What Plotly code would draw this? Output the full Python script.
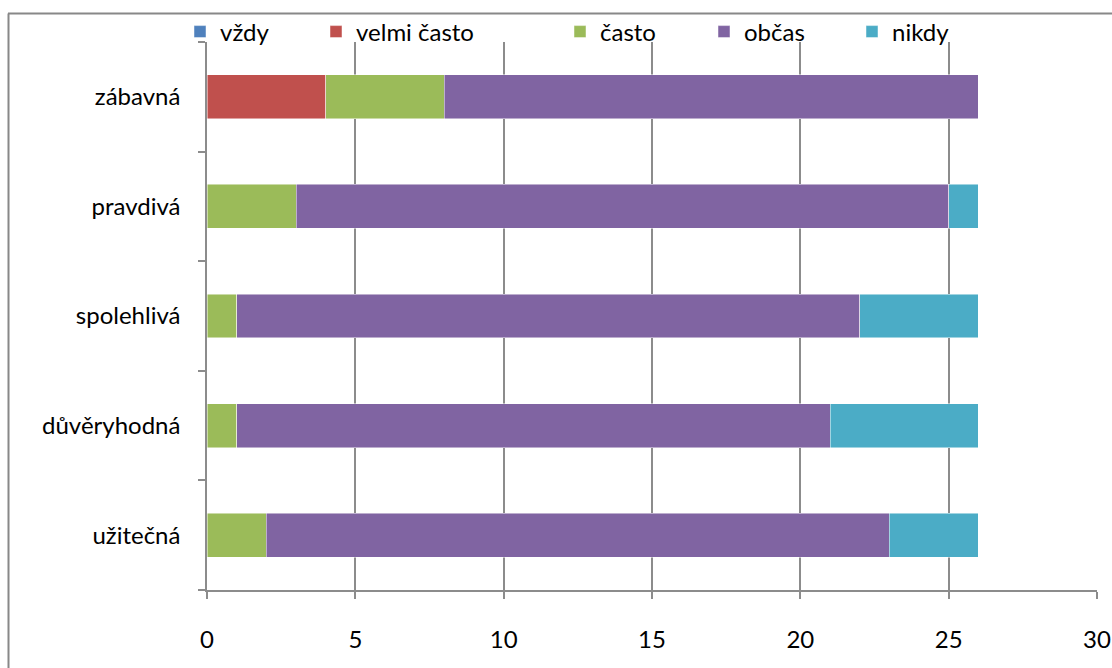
import plotly.graph_objects as go

# Response categories and their values per attribute (bottom to top)
attributes = ["užitečná", "důvěryhodná", "spolehlivá", "pravdivá", "zábavná"]
series_names = ["vždy", "velmi často", "často", "občas", "nikdy"]
vzdy = [0, 0, 0, 0, 0]
velmi_casto = [0, 0, 0, 0, 4]
casto = [2, 1, 1, 3, 4]
obcas = [21, 20, 21, 22, 18]
nikdy = [3, 5, 4, 1, 0]
x_ticks = [0, 5, 10, 15, 20, 25, 30]

values = [vzdy, velmi_casto, casto, obcas, nikdy]
colors = ["#4F81BD", "#C0504D", "#9BBB59", "#8064A2", "#4BACC6"]

W, H = 1112, 668
L, R, T, B = 207, 15, 42, 78
pw, ph = W - L - R, H - T - B


def px_x(p):
    return (p - L) / pw


def px_y(p):
    return 1 - (p - T) / ph


FONT = "Lato, Calibri, 'Liberation Sans', sans-serif"
FS = 24
legend_names = ["legend", "legend2", "legend3", "legend4", "legend5"]
legend_px = [180, 316, 560, 704, 852]

fig = go.Figure()
for name, vals, col, lg in zip(series_names, values, colors, legend_names):
    fig.add_trace(go.Bar(
        y=attributes, x=vals, name=name, orientation="h",
        marker=dict(color=col, line=dict(color="rgba(255,255,255,0.6)", width=0.8)),
        legend=lg,
    ))

layout_legends = {}
for lg, lx in zip(legend_names, legend_px):
    layout_legends[lg] = dict(
        x=px_x(lx), xanchor="left", y=px_y(32), yanchor="middle",
        orientation="h", bgcolor="rgba(0,0,0,0)",
        font=dict(family=FONT, size=FS, color="#000"),
        itemclick=False, itemdoubleclick=False,
    )

fig.update_layout(
    width=W, height=H,
    margin=dict(l=L, r=R, t=T, b=B, autoexpand=False),
    barmode="stack", bargap=0.6,
    plot_bgcolor="white", paper_bgcolor="white",
    showlegend=True,
    font=dict(family=FONT, size=FS, color="#000"),
    **layout_legends,
    xaxis=dict(
        range=[0, 30], tickvals=x_ticks, ticktext=[str(v) for v in x_ticks],
        showgrid=True, gridcolor="#8C8C8C", gridwidth=1.5,
        showline=True, linecolor="#8C8C8C", linewidth=1.5,
        ticks="outside", ticklen=7, tickcolor="#8C8C8C", tickwidth=1.5,
        ticklabelstandoff=20, zeroline=False, fixedrange=True, automargin=False,
    ),
    yaxis=dict(
        categoryorder="array", categoryarray=attributes,
        range=[-0.5, 4.5],
        showgrid=False, showline=True, linecolor="#8C8C8C", linewidth=1.5,
        ticks="outside", ticklen=7, tickcolor="#8C8C8C", tickwidth=1.5,
        tickson="boundaries", ticklabelstandoff=20, fixedrange=True, automargin=False,
    ),
    shapes=[
        dict(type="line", xref="paper", yref="paper",
             x0=px_x(8), x1=px_x(W + 5), y0=px_y(13.5), y1=px_y(13.5),
             line=dict(color="#888888", width=2)),
        dict(type="line", xref="paper", yref="paper",
             x0=px_x(8.5), x1=px_x(8.5), y0=px_y(13.5), y1=px_y(H + 5),
             line=dict(color="#888888", width=2)),
    ],
)

fig.write_html("out.html")
